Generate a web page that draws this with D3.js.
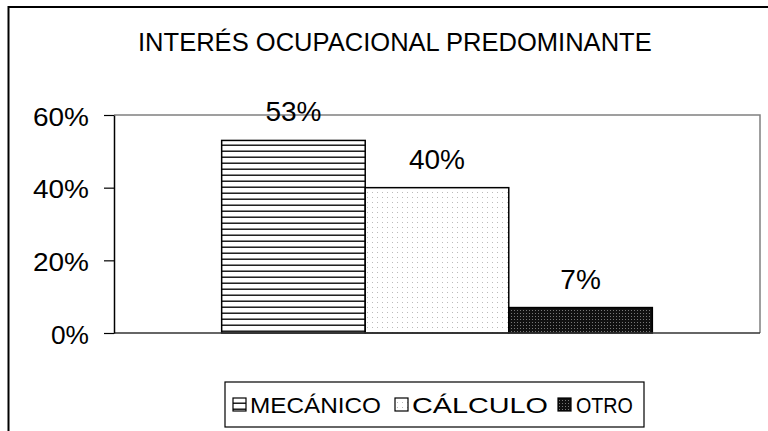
<!DOCTYPE html>
<html>
<head>
<meta charset="utf-8">
<script src="https://cdn.jsdelivr.net/npm/d3@7"></script>
<style>
  body { margin: 0; background: #fff; }
  text { font-family: "Liberation Sans", Arial, sans-serif; fill: #000; }
</style>
</head>
<body>
<script>
// chart values
const categories = ["MECÁNICO", "CÁLCULO", "OTRO"];
const values = [53, 40, 7];
const tickValues = [0, 20, 40, 60];
const title = "INTERÉS OCUPACIONAL PREDOMINANTE";
const patternIds = ["pat-lines", "pat-dots", "pat-dark"];

const width = 768, height = 431;
// plot area box
const plot = { left: 114, right: 760, top: 115, bottom: 333 };

const svg = d3.select("body").append("svg")
    .attr("width", width)
    .attr("height", height);

// stretch a text node horizontally to a given width
function fitWidth(sel, x, y, w) {
    sel.each(function () {
        let natural = this.getComputedTextLength();
        d3.select(this)
            .attr("x", 0).attr("y", 0)
            .attr("transform", "translate(" + x + "," + y + ") scale(" + (w / natural) + ",1)");
    });
}

// patterns for the bars
const defs = svg.append("defs");
let p1 = defs.append("pattern").attr("id", "pat-lines")
    .attr("patternUnits", "userSpaceOnUse").attr("width", 6).attr("height", 6);
p1.append("rect").attr("width", 6).attr("height", 6).attr("fill", "#fff");
p1.append("rect").attr("y", 0).attr("width", 6).attr("height", 1).attr("fill", "#888");
p1.append("rect").attr("y", 1).attr("width", 6).attr("height", 1).attr("fill", "#222");

let p2 = defs.append("pattern").attr("id", "pat-dots")
    .attr("patternUnits", "userSpaceOnUse").attr("width", 5).attr("height", 5);
p2.append("rect").attr("width", 5).attr("height", 5).attr("fill", "#fff");
p2.append("rect").attr("x", 2).attr("y", 2).attr("width", 1).attr("height", 1).attr("fill", "#bbb");

let p3 = defs.append("pattern").attr("id", "pat-dark")
    .attr("patternUnits", "userSpaceOnUse").attr("width", 3).attr("height", 3);
p3.append("rect").attr("width", 3).attr("height", 3).attr("fill", "#111");
p3.append("rect").attr("x", 1).attr("y", 1).attr("width", 1).attr("height", 1).attr("fill", "#777");

// outer chart frame (only top and left edges visible)
svg.append("path")
    .attr("d", "M8.5," + height + "V7H" + width)
    .attr("fill", "none")
    .attr("stroke", "#000")
    .attr("stroke-width", 2);

// title
svg.append("text")
    .attr("font-size", 25)
    .text(title)
    .call(fitWidth, 138, 51, 514);

// scales
const x = d3.scaleBand()
    .domain(categories)
    .range([plot.left, plot.right])
    .paddingInner(0)
    .paddingOuter(0.75);

const y = d3.scaleLinear()
    .domain([0, 60])
    .range([plot.bottom, plot.top]);

// plot area border (top gridline + right side)
svg.append("path")
    .attr("d", "M" + plot.left + "," + y(60) + "H" + plot.right + "V" + y(0))
    .attr("fill", "none")
    .attr("stroke", "#808080")
    .attr("stroke-width", 1.5);

// bars
svg.selectAll("rect.bar")
    .data(values)
    .enter().append("rect")
    .attr("class", "bar")
    .attr("x", (d, i) => x(categories[i]))
    .attr("y", d => y(d))
    .attr("width", x.bandwidth())
    .attr("height", d => y(0) - y(d))
    .attr("fill", (d, i) => "url(#" + patternIds[i] + ")")
    .attr("stroke", "#000")
    .attr("stroke-width", 1.5);

// bottom axis line
svg.append("line")
    .attr("x1", plot.left).attr("x2", plot.right)
    .attr("y1", y(0)).attr("y2", y(0))
    .attr("stroke", "#333")
    .attr("stroke-width", 1.5);

// y axis
const yAxis = d3.axisLeft(y)
    .tickValues(tickValues)
    .tickSize(10)
    .tickSizeOuter(0)
    .tickPadding(15)
    .tickFormat(d => d + "%");

const gy = svg.append("g")
    .attr("transform", "translate(" + plot.left + ",0)")
    .call(yAxis);
gy.select(".domain").attr("stroke", "#000").attr("stroke-width", 1.5);
gy.selectAll(".tick line").attr("stroke", "#000").attr("stroke-width", 1.2);
gy.selectAll(".tick text")
    .attr("font-family", "Liberation Sans, Arial, sans-serif")
    .attr("font-size", 25)
    .attr("fill", "#000")
    .attr("dy", null)
    .attr("y", 10)
    .attr("textLength", 56)
    .attr("lengthAdjust", "spacingAndGlyphs");
// keep the 0% label narrower
gy.selectAll(".tick text").filter(d => d === 0).attr("textLength", 38);

// data labels
svg.selectAll("text.lbl")
    .data(values)
    .enter().append("text")
    .attr("class", "lbl")
    .attr("x", (d, i) => x(categories[i]) + x.bandwidth() / 2)
    .attr("y", d => y(d) - 19)
    .attr("text-anchor", "middle")
    .attr("font-size", 28)
    .text(d => d + "%");

// legend
const legendX = [233, 395, 558];
const legendTextX = [250, 412, 576];
const legendTextW = [131, 136, 57];
const lg = svg.append("g");
lg.append("rect")
    .attr("x", 225).attr("y", 382)
    .attr("width", 419).attr("height", 45)
    .attr("fill", "#fff")
    .attr("stroke", "#000")
    .attr("stroke-width", 1.2);
categories.forEach((c, i) => {
    lg.append("rect")
        .attr("x", legendX[i]).attr("y", 398)
        .attr("width", 13).attr("height", 13)
        .attr("fill", "url(#" + patternIds[i] + ")")
        .attr("stroke", "#000")
        .attr("stroke-width", 1.2);
    lg.append("text")
        .attr("font-size", 22)
        .text(c)
        .call(fitWidth, legendTextX[i], 413, legendTextW[i]);
});
</script>
</body>
</html>
